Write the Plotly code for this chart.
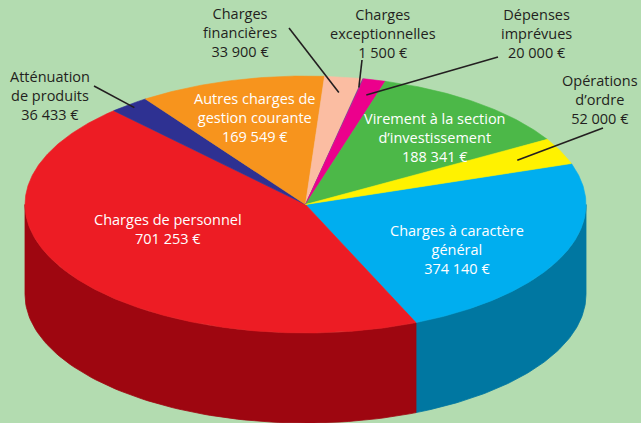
import numpy as np
import plotly.graph_objects as go

# ---------------- data ----------------
categories = [
    "Charges à caractère général",
    "Charges de personnel",
    "Atténuation de produits",
    "Autres charges de gestion courante",
    "Charges financières",
    "Charges exceptionnelles",
    "Dépenses imprévues",
    "Virement à la section d’investissement",
    "Opérations d’ordre",
]
values = [374140, 701253, 36433, 169549, 33900, 1500, 20000, 188341, 52000]
label_lines = [
    "Charges à caractère<br>général",
    "Charges de personnel",
    "Atténuation<br>de produits",
    "Autres charges de<br>gestion courante",
    "Charges<br>financières",
    "Charges<br>exceptionnelles",
    "Dépenses<br>imprévues",
    "Virement à la section<br>d’investissement",
    "Opérations<br>d’ordre",
]

# ---------------- styles / layout ----------------
top_colors = ["#00aeef", "#ed1c24", "#2e3192", "#f7941d", "#fbbda2",
              "#7d3a96", "#ec008c", "#4cb848", "#fff200"]
side_colors = ["#0077a1", "#9e0610", "#1d1f66", "#a8610f", "#b0806b",
               "#50245f", "#9c005c", "#2f7a2c", "#a8a000"]
BG = "#b3dcb0"
DARK = "#231f20"

# label centre positions (pixels) and text colours
label_pos = [(457, 249), (168, 229), (50, 95), (255, 117), (240, 32),
             (383, 33), (536, 33), (435, 137), (600, 99)]
label_color = ["white", "white", DARK, "white", DARK, DARK, DARK, "white", DARK]
# leader lines: (outer x, outer y, radius fraction of inner end) or None
leaders = [None, None, (94, 86, 0.97), None, (289, 28, 0.88),
           (362, 60, 0.93), (498, 57, 0.88), None, (603, 128, 0.83)]

CX, CY, RX, RY, DEPTH = 305.5, 204.5, 280.5, 128.5, 90
START = 18.6  # degrees, slices run clockwise

W, H = 641, 423


def pt(t_deg, dy=0.0, r=1.0):
    t = np.radians(t_deg)
    return CX + RX * r * np.cos(t), CY - RY * r * np.sin(t) + dy


total = float(sum(values))
cum = np.concatenate([[0.0], np.cumsum(values) / total])
t_start = START - 360.0 * cum[:-1]
t_end = START - 360.0 * cum[1:]

fig = go.Figure()

# side walls (front half of the ellipse: angles in [-180, 0])
for i in range(len(values)):
    hi, lo = t_start[i], t_end[i]
    a, b = max(lo, -180.0), min(hi, 0.0)
    if b <= a:
        continue
    ts = np.linspace(a, b, 80)
    xs_top, ys_top = pt(ts)
    xs_bot, ys_bot = pt(ts[::-1], dy=DEPTH)
    xs = np.concatenate([xs_top, xs_bot, xs_top[:1]])
    ys = np.concatenate([ys_top, ys_bot, ys_top[:1]])
    fig.add_trace(go.Scatter(x=xs, y=ys, mode="lines", fill="toself",
                             fillcolor=side_colors[i],
                             line=dict(color=side_colors[i], width=0.8),
                             hoverinfo="skip", showlegend=False))

# top faces
for i in range(len(values)):
    n = max(6, int(abs(t_start[i] - t_end[i]) * 2))
    ts = np.linspace(t_start[i], t_end[i], n)
    xa, ya = pt(ts)
    xs = np.concatenate([[CX], xa, [CX]])
    ys = np.concatenate([[CY], ya, [CY]])
    fig.add_trace(go.Scatter(x=xs, y=ys, mode="lines", fill="toself",
                             fillcolor=top_colors[i],
                             line=dict(color=top_colors[i], width=0.6),
                             hoverinfo="skip", showlegend=False,
                             name=categories[i]))

# leader lines
shapes = []
for i, ld in enumerate(leaders):
    if ld is None:
        continue
    ox, oy, r = ld
    mid = (t_start[i] + t_end[i]) / 2.0
    ix, iy = pt(mid, r=r)
    shapes.append(dict(type="line", xref="x", yref="y", x0=ox, y0=oy,
                       x1=float(ix), y1=float(iy),
                       line=dict(color=DARK, width=1.6)))


def fmt(v):
    return f"{v:,}".replace(",", " ") + " €"


annotations = []
for i in range(len(values)):
    x, y = label_pos[i]
    annotations.append(dict(x=x, y=y, xref="x", yref="y",
                            text=label_lines[i] + "<br>" + fmt(values[i]),
                            showarrow=False, xanchor="center", yanchor="middle",
                            align="center",
                            font=dict(family="Open Sans", size=14.5,
                                      color=label_color[i])))

fig.update_layout(
    width=W, height=H,
    margin=dict(l=0, r=0, t=0, b=0),
    paper_bgcolor=BG, plot_bgcolor=BG,
    xaxis=dict(range=[0, W], visible=False, fixedrange=True),
    yaxis=dict(range=[H, 0], visible=False, fixedrange=True),
    shapes=shapes, annotations=annotations, showlegend=False,
)

fig.write_html("out.html", config=dict(displayModeBar=False),
               post_script="document.body.style.margin='0';"
                           "document.body.style.overflow='hidden';")
